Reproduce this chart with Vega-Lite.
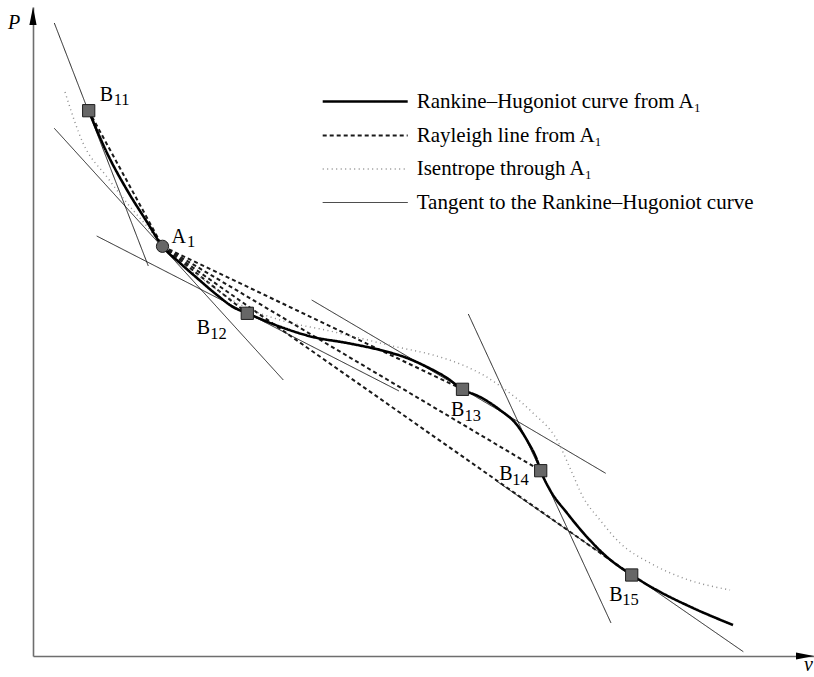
{
  "$schema": "https://vega.github.io/schema/vega-lite/v6.json",
  "width": 781,
  "height": 649,
  "padding": {"left": 33, "top": 7, "right": 0, "bottom": 21},
  "autosize": {"type": "none"},
  "background": "white",
  "config": {
    "view": {"stroke": null},
    "font": "Liberation Serif",
    "axis": {"domainColor": "#6e6e6e", "domainWidth": 1.6, "ticks": false, "labels": false, "grid": false, "titleFont": "Liberation Serif", "titleFontStyle": "italic", "titleFontWeight": "normal", "titleFontSize": 20, "titleColor": "black"},
    "axisX": {"titleX": 775, "titleY": 14, "titleAlign": "center", "titleBaseline": "alphabetic"},
    "axisY": {"titleX": -19.3, "titleY": 21.3, "titleAngle": 0, "titleAlign": "center", "titleBaseline": "alphabetic"}
  },
  "datasets": {
    "curves": [
      {"s": "Tangent to the Rankine–Hugoniot curve", "id": "T11", "v": 0.213, "P": 6.33},
      {"s": "Tangent to the Rankine–Hugoniot curve", "id": "T11", "v": 1.153, "P": 3.90},
      {"s": "Tangent to the Rankine–Hugoniot curve", "id": "TA1", "v": 0.213, "P": 5.277},
      {"s": "Tangent to the Rankine–Hugoniot curve", "id": "TA1", "v": 2.503, "P": 2.76},
      {"s": "Tangent to the Rankine–Hugoniot curve", "id": "T12", "v": 0.637, "P": 4.20},
      {"s": "Tangent to the Rankine–Hugoniot curve", "id": "T12", "v": 3.66, "P": 2.65},
      {"s": "Tangent to the Rankine–Hugoniot curve", "id": "T13", "v": 2.787, "P": 3.56},
      {"s": "Tangent to the Rankine–Hugoniot curve", "id": "T13", "v": 5.727, "P": 1.827},
      {"s": "Tangent to the Rankine–Hugoniot curve", "id": "T14", "v": 4.353, "P": 3.42},
      {"s": "Tangent to the Rankine–Hugoniot curve", "id": "T14", "v": 5.78, "P": 0.33},
      {"s": "Tangent to the Rankine–Hugoniot curve", "id": "T15", "v": 4.62, "P": 1.76},
      {"s": "Tangent to the Rankine–Hugoniot curve", "id": "T15", "v": 7.103, "P": 0.043},
      {"s": "Rayleigh line from A₁", "id": "R11", "v": 1.295, "P": 4.097},
      {"s": "Rayleigh line from A₁", "id": "R11", "v": 0.557, "P": 5.453},
      {"s": "Rayleigh line from A₁", "id": "R12", "v": 1.295, "P": 4.097},
      {"s": "Rayleigh line from A₁", "id": "R12", "v": 2.143, "P": 3.427},
      {"s": "Rayleigh line from A₁", "id": "R13", "v": 1.295, "P": 4.097},
      {"s": "Rayleigh line from A₁", "id": "R13", "v": 4.295, "P": 2.667},
      {"s": "Rayleigh line from A₁", "id": "R14", "v": 1.295, "P": 4.097},
      {"s": "Rayleigh line from A₁", "id": "R14", "v": 5.077, "P": 1.853},
      {"s": "Rayleigh line from A₁", "id": "R15", "v": 1.295, "P": 4.097},
      {"s": "Rayleigh line from A₁", "id": "R15", "v": 5.987, "P": 0.81},
      {"s": "Isentrope through A₁", "id": "S", "v": 0.32, "P": 5.64},
      {"s": "Isentrope through A₁", "id": "S", "v": 0.50, "P": 5.13},
      {"s": "Isentrope through A₁", "id": "S", "v": 0.74, "P": 4.79},
      {"s": "Isentrope through A₁", "id": "S", "v": 0.94, "P": 4.53},
      {"s": "Isentrope through A₁", "id": "S", "v": 1.17, "P": 4.26},
      {"s": "Isentrope through A₁", "id": "S", "v": 1.295, "P": 4.097},
      {"s": "Isentrope through A₁", "id": "S", "v": 1.47, "P": 3.93},
      {"s": "Isentrope through A₁", "id": "S", "v": 1.67, "P": 3.79},
      {"s": "Isentrope through A₁", "id": "S", "v": 1.87, "P": 3.64},
      {"s": "Isentrope through A₁", "id": "S", "v": 2.10, "P": 3.50},
      {"s": "Isentrope through A₁", "id": "S", "v": 2.47, "P": 3.36},
      {"s": "Isentrope through A₁", "id": "S", "v": 2.97, "P": 3.25},
      {"s": "Isentrope through A₁", "id": "S", "v": 3.64, "P": 3.09},
      {"s": "Isentrope through A₁", "id": "S", "v": 4.00, "P": 3.01},
      {"s": "Isentrope through A₁", "id": "S", "v": 4.32, "P": 2.90},
      {"s": "Isentrope through A₁", "id": "S", "v": 4.52, "P": 2.80},
      {"s": "Isentrope through A₁", "id": "S", "v": 4.70, "P": 2.68},
      {"s": "Isentrope through A₁", "id": "S", "v": 5.00, "P": 2.43},
      {"s": "Isentrope through A₁", "id": "S", "v": 5.24, "P": 2.16},
      {"s": "Isentrope through A₁", "id": "S", "v": 5.37, "P": 1.88},
      {"s": "Isentrope through A₁", "id": "S", "v": 5.50, "P": 1.59},
      {"s": "Isentrope through A₁", "id": "S", "v": 5.67, "P": 1.36},
      {"s": "Isentrope through A₁", "id": "S", "v": 5.87, "P": 1.13},
      {"s": "Isentrope through A₁", "id": "S", "v": 6.17, "P": 0.93},
      {"s": "Isentrope through A₁", "id": "S", "v": 6.50, "P": 0.78},
      {"s": "Isentrope through A₁", "id": "S", "v": 6.97, "P": 0.66},
      {"s": "Rankine–Hugoniot curve from A₁", "id": "H", "v": 0.557, "P": 5.453},
      {"s": "Rankine–Hugoniot curve from A₁", "id": "H", "v": 0.74, "P": 5.03},
      {"s": "Rankine–Hugoniot curve from A₁", "id": "H", "v": 0.94, "P": 4.66},
      {"s": "Rankine–Hugoniot curve from A₁", "id": "H", "v": 1.14, "P": 4.34},
      {"s": "Rankine–Hugoniot curve from A₁", "id": "H", "v": 1.295, "P": 4.097},
      {"s": "Rankine–Hugoniot curve from A₁", "id": "H", "v": 1.47, "P": 3.93},
      {"s": "Rankine–Hugoniot curve from A₁", "id": "H", "v": 1.64, "P": 3.78},
      {"s": "Rankine–Hugoniot curve from A₁", "id": "H", "v": 1.84, "P": 3.61},
      {"s": "Rankine–Hugoniot curve from A₁", "id": "H", "v": 2.00, "P": 3.49},
      {"s": "Rankine–Hugoniot curve from A₁", "id": "H", "v": 2.143, "P": 3.427},
      {"s": "Rankine–Hugoniot curve from A₁", "id": "H", "v": 2.47, "P": 3.293},
      {"s": "Rankine–Hugoniot curve from A₁", "id": "H", "v": 2.80, "P": 3.19},
      {"s": "Rankine–Hugoniot curve from A₁", "id": "H", "v": 3.14, "P": 3.13},
      {"s": "Rankine–Hugoniot curve from A₁", "id": "H", "v": 3.47, "P": 3.06},
      {"s": "Rankine–Hugoniot curve from A₁", "id": "H", "v": 3.74, "P": 2.98},
      {"s": "Rankine–Hugoniot curve from A₁", "id": "H", "v": 3.94, "P": 2.89},
      {"s": "Rankine–Hugoniot curve from A₁", "id": "H", "v": 4.14, "P": 2.78},
      {"s": "Rankine–Hugoniot curve from A₁", "id": "H", "v": 4.295, "P": 2.667},
      {"s": "Rankine–Hugoniot curve from A₁", "id": "H", "v": 4.47, "P": 2.59},
      {"s": "Rankine–Hugoniot curve from A₁", "id": "H", "v": 4.67, "P": 2.46},
      {"s": "Rankine–Hugoniot curve from A₁", "id": "H", "v": 4.84, "P": 2.31},
      {"s": "Rankine–Hugoniot curve from A₁", "id": "H", "v": 4.95, "P": 2.14},
      {"s": "Rankine–Hugoniot curve from A₁", "id": "H", "v": 5.04, "P": 1.96},
      {"s": "Rankine–Hugoniot curve from A₁", "id": "H", "v": 5.077, "P": 1.853},
      {"s": "Rankine–Hugoniot curve from A₁", "id": "H", "v": 5.17, "P": 1.66},
      {"s": "Rankine–Hugoniot curve from A₁", "id": "H", "v": 5.34, "P": 1.43},
      {"s": "Rankine–Hugoniot curve from A₁", "id": "H", "v": 5.54, "P": 1.19},
      {"s": "Rankine–Hugoniot curve from A₁", "id": "H", "v": 5.74, "P": 0.99},
      {"s": "Rankine–Hugoniot curve from A₁", "id": "H", "v": 5.987, "P": 0.81},
      {"s": "Rankine–Hugoniot curve from A₁", "id": "H", "v": 6.20, "P": 0.68},
      {"s": "Rankine–Hugoniot curve from A₁", "id": "H", "v": 6.60, "P": 0.48},
      {"s": "Rankine–Hugoniot curve from A₁", "id": "H", "v": 7.00, "P": 0.31}
    ],
    "points": [
      {"name": "A1", "letter": "A", "sub": "1", "kind": "A", "v": 1.295, "P": 4.097},
      {"name": "B11", "letter": "B", "sub": "11", "kind": "B", "v": 0.557, "P": 5.453},
      {"name": "B12", "letter": "B", "sub": "12", "kind": "B", "v": 2.143, "P": 3.427},
      {"name": "B13", "letter": "B", "sub": "13", "kind": "B", "v": 4.295, "P": 2.667},
      {"name": "B14", "letter": "B", "sub": "14", "kind": "B", "v": 5.077, "P": 1.853},
      {"name": "B15", "letter": "B", "sub": "15", "kind": "B", "v": 5.987, "P": 0.81}
    ]
  },
  "layer": [
    {
      "data": {"name": "curves"},
      "mark": {"type": "line", "interpolate": "monotone"},
      "encoding": {
        "x": {"field": "v", "type": "quantitative", "scale": {"domain": [0, 7.81], "nice": false, "zero": false}, "title": "v"},
        "y": {"field": "P", "type": "quantitative", "scale": {"domain": [0, 6.49], "nice": false, "zero": false}, "title": "P"},
        "detail": {"field": "id"},
        "color": {
          "field": "s", "type": "nominal",
          "scale": {"domain": ["Rankine–Hugoniot curve from A₁", "Rayleigh line from A₁", "Isentrope through A₁", "Tangent to the Rankine–Hugoniot curve"], "range": ["#000000", "#1a1a1a", "#8c8c8c", "#000000"]},
          "legend": {"title": null, "orient": "none", "legendX": 320.7, "legendY": 83, "padding": 0, "symbolType": "M-4.25,0L4.25,0", "symbolSize": 400, "labelFont": "Liberation Serif", "labelFontSize": 21, "labelColor": "black", "labelOffset": 40, "rowPadding": 12, "labelLimit": 600}
        },
        "strokeDash": {
          "field": "s", "type": "nominal",
          "scale": {"domain": ["Rankine–Hugoniot curve from A₁", "Rayleigh line from A₁", "Isentrope through A₁", "Tangent to the Rankine–Hugoniot curve"], "range": [[1, 0], [4, 3], [1, 3.5], [1, 0]]},
          "legend": {"title": null, "orient": "none", "legendX": 320.7, "legendY": 83, "padding": 0, "symbolType": "M-4.25,0L4.25,0", "symbolSize": 400, "labelFont": "Liberation Serif", "labelFontSize": 21, "labelColor": "black", "labelOffset": 40, "rowPadding": 12, "labelLimit": 600}
        },
        "strokeWidth": {
          "field": "s", "type": "nominal",
          "scale": {"domain": ["Rankine–Hugoniot curve from A₁", "Rayleigh line from A₁", "Isentrope through A₁", "Tangent to the Rankine–Hugoniot curve"], "range": [2.6, 0.85, 1, 1]},
          "legend": {"title": null, "orient": "none", "legendX": 320.7, "legendY": 83, "padding": 0, "symbolType": "M-4.25,0L4.25,0", "symbolSize": 400, "labelFont": "Liberation Serif", "labelFontSize": 21, "labelColor": "black", "labelOffset": 40, "rowPadding": 12, "labelLimit": 600}
        }
      }
    },
    {
      "data": {"name": "points"},
      "mark": {"type": "point", "filled": true, "fill": "#676767", "stroke": "#1e1e1e", "strokeWidth": 1, "size": 150, "opacity": 1},
      "encoding": {
        "x": {"field": "v", "type": "quantitative"},
        "y": {"field": "P", "type": "quantitative"},
        "shape": {"field": "kind", "type": "nominal", "scale": {"domain": ["A", "B"], "range": ["circle", "square"]}, "legend": null}
      }
    },
    {
      "data": {"name": "points"},
      "layer": [
        {"transform": [{"filter": "datum.name === 'B11'"}], "mark": {"type": "text", "align": "left", "baseline": "alphabetic", "dx": 11, "dy": -10, "fontSize": 20, "font": "Liberation Serif", "color": "black"}, "encoding": {"text": {"field": "letter"}}},
        {"transform": [{"filter": "datum.name === 'B11'"}], "mark": {"type": "text", "align": "left", "baseline": "alphabetic", "dx": 25, "dy": -5.5, "fontSize": 16.5, "font": "Liberation Serif", "color": "black"}, "encoding": {"text": {"field": "sub"}}},
        {"transform": [{"filter": "datum.name === 'A1'"}], "mark": {"type": "text", "align": "left", "baseline": "alphabetic", "dx": 9, "dy": -3, "fontSize": 20, "font": "Liberation Serif", "color": "black"}, "encoding": {"text": {"field": "letter"}}},
        {"transform": [{"filter": "datum.name === 'A1'"}], "mark": {"type": "text", "align": "left", "baseline": "alphabetic", "dx": 24.5, "dy": 0.5, "fontSize": 16.5, "font": "Liberation Serif", "color": "black"}, "encoding": {"text": {"field": "sub"}}},
        {"transform": [{"filter": "datum.name === 'B12'"}], "mark": {"type": "text", "align": "left", "baseline": "alphabetic", "dx": -50.5, "dy": 20.5, "fontSize": 20, "font": "Liberation Serif", "color": "black"}, "encoding": {"text": {"field": "letter"}}},
        {"transform": [{"filter": "datum.name === 'B12'"}], "mark": {"type": "text", "align": "left", "baseline": "alphabetic", "dx": -37, "dy": 26, "fontSize": 16.5, "font": "Liberation Serif", "color": "black"}, "encoding": {"text": {"field": "sub"}}},
        {"transform": [{"filter": "datum.name === 'B13'"}], "mark": {"type": "text", "align": "left", "baseline": "alphabetic", "dx": -11.5, "dy": 27, "fontSize": 20, "font": "Liberation Serif", "color": "black"}, "encoding": {"text": {"field": "letter"}}},
        {"transform": [{"filter": "datum.name === 'B13'"}], "mark": {"type": "text", "align": "left", "baseline": "alphabetic", "dx": 2, "dy": 31.5, "fontSize": 16.5, "font": "Liberation Serif", "color": "black"}, "encoding": {"text": {"field": "sub"}}},
        {"transform": [{"filter": "datum.name === 'B14'"}], "mark": {"type": "text", "align": "left", "baseline": "alphabetic", "dx": -41.5, "dy": 9.5, "fontSize": 20, "font": "Liberation Serif", "color": "black"}, "encoding": {"text": {"field": "letter"}}},
        {"transform": [{"filter": "datum.name === 'B14'"}], "mark": {"type": "text", "align": "left", "baseline": "alphabetic", "dx": -28.5, "dy": 14.3, "fontSize": 16.5, "font": "Liberation Serif", "color": "black"}, "encoding": {"text": {"field": "sub"}}},
        {"transform": [{"filter": "datum.name === 'B15'"}], "mark": {"type": "text", "align": "left", "baseline": "alphabetic", "dx": -22.4, "dy": 25.7, "fontSize": 20, "font": "Liberation Serif", "color": "black"}, "encoding": {"text": {"field": "letter"}}},
        {"transform": [{"filter": "datum.name === 'B15'"}], "mark": {"type": "text", "align": "left", "baseline": "alphabetic", "dx": -9.4, "dy": 30, "fontSize": 16.5, "font": "Liberation Serif", "color": "black"}, "encoding": {"text": {"field": "sub"}}}
      ],
      "encoding": {
        "x": {"field": "v", "type": "quantitative"},
        "y": {"field": "P", "type": "quantitative"}
      }
    },
    {
      "data": {"values": [{}]},
      "mark": {"type": "point", "shape": "M 0 -1 L 0.4 1 L -0.4 1 Z", "filled": true, "fill": "black", "size": 324, "opacity": 1, "clip": false},
      "encoding": {"x": {"datum": 0}, "y": {"datum": 6.40}}
    },
    {
      "data": {"values": [{}]},
      "mark": {"type": "point", "shape": "M 1 0 L -1 -0.4 L -1 0.4 Z", "filled": true, "fill": "black", "size": 324, "opacity": 1, "clip": false},
      "encoding": {"x": {"datum": 7.72}, "y": {"datum": 0}}
    }
  ]
}
